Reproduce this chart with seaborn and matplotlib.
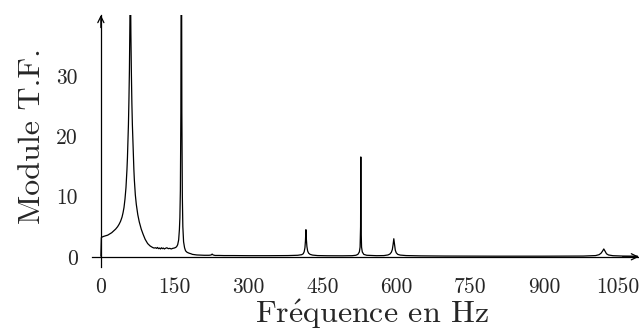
import matplotlib
matplotlib.use("Agg")
import matplotlib.pyplot as plt
import seaborn as sns

# spectre (frequence en Hz, module T.F.)
freq = [0, 1, 3, 6, 10, 14, 18, 22, 26, 30, 34, 37, 40, 43, 45, 47, 49, 51, 53, 54,
        55, 56, 57, 58, 59, 59.5, 60, 60.5, 61, 62, 63, 64, 65, 66, 67, 68, 70, 72, 75, 78,
        82, 86, 90, 95, 100, 105,
        108, 111, 113, 115, 117, 119, 121, 123, 125, 127, 129, 131, 134, 137, 140, 143,
        146, 149, 152, 154, 156,
        158, 159.5, 160.5, 161.5, 162.5, 163, 163.5, 164, 164.5, 165.5, 166.5, 168, 170,
        172, 175, 179, 183, 186, 190, 195, 200, 210, 220, 224, 226, 228, 232, 240, 250,
        270, 300, 340, 380, 400, 408, 411, 413, 414.5, 415.5, 416.5, 417.5, 418.5, 420,
        422, 425, 430, 440, 460, 490, 510, 518, 522, 525, 526.5, 527.5, 528, 528.5, 529.5,
        531, 534, 540, 560, 575, 583, 587, 590, 592, 593.5, 595, 596.5, 598, 600, 603,
        608, 620, 650, 700, 800, 900, 980, 1005, 1012, 1016, 1019, 1021.5, 1024, 1027, 1031,
        1040, 1060, 1090]
amp = [0.1, 3.2, 3.3, 3.4, 3.5, 3.6, 3.8, 4.0, 4.3, 4.6, 5.0, 5.4, 5.9, 6.6, 7.3, 8.2,
       9.6, 11.5, 14.5, 16.5, 19, 22, 26, 31, 39, 50, 48, 42, 37, 30.5, 25.5, 22, 19.5,
       16.8, 14.6, 12.8, 10.3, 8.7, 7.0, 5.8, 4.6, 3.7, 2.9, 2.2, 1.8, 1.55,
       1.45, 1.5, 1.4, 1.55, 1.35, 1.45, 1.3, 1.5, 1.35, 1.45, 1.3, 1.4, 1.5, 1.35, 1.4,
       1.3, 1.4, 1.45, 1.55, 1.7, 2.0,
       2.8, 4.5, 6.5, 11, 24, 45, 80, 45, 24, 10, 5, 2.5, 1.5,
       1.0, 0.75, 0.6, 0.5, 0.4, 0.35, 0.3, 0.28, 0.25, 0.25, 0.3, 0.45, 0.3, 0.22, 0.22,
       0.2, 0.2, 0.18, 0.18, 0.2, 0.25, 0.35, 0.5, 0.85, 1.5, 2.6, 4.5, 2.8, 1.7, 0.95,
       0.6, 0.4, 0.28, 0.2, 0.17, 0.16, 0.18, 0.25, 0.4, 0.8, 1.6, 5, 16.6, 5, 1.6,
       0.8, 0.4, 0.25, 0.18, 0.2, 0.3, 0.45, 0.75, 1.2, 2.0, 3.0, 2.0, 1.1, 0.65, 0.4,
       0.28, 0.2, 0.15, 0.12, 0.1, 0.1, 0.12, 0.2, 0.35, 0.6, 0.95, 1.3, 0.95, 0.5, 0.3,
       0.18, 0.12, 0.1]

xticks = [0, 150, 300, 450, 600, 750, 900, 1050]
xticklabels = ["0", "150", "300", "450", "600", "750", "900", "1050"]
yticks = [0, 10, 20, 30]
yticklabels = ["0", "10", "20", "30"]

sns.set_style("white")
plt.rcParams["font.family"] = ["cmr10", "DejaVu Serif"]
plt.rcParams["mathtext.fontset"] = "cm"
plt.rcParams["axes.formatter.use_mathtext"] = True

fig = plt.figure(figsize=(6.39, 3.32), dpi=100)
ax = fig.add_axes([92 / 639, 65 / 332, 547 / 639, 252 / 332])

sns.lineplot(x=freq, y=amp, ax=ax, color="black", linewidth=0.9, estimator=None)

ax.set_xlim(-18, 1093)
ax.set_ylim(-1.7, 40.2)

# axes en croix avec fleches
for s in ["top", "right"]:
    ax.spines[s].set_visible(False)
ax.spines["left"].set_position(("data", 0))
ax.spines["bottom"].set_position(("data", 0))
for s in ["left", "bottom"]:
    ax.spines[s].set_linewidth(0.9)
    ax.spines[s].set_color("black")
arrow = dict(arrowstyle="->,head_length=0.45,head_width=0.22", color="black", lw=0.9,
             shrinkA=0, shrinkB=0)
ax.annotate("", xy=(1, 0), xytext=(0.97, 0), xycoords=ax.get_yaxis_transform(),
            textcoords=ax.get_yaxis_transform(), arrowprops=arrow, annotation_clip=False)
ax.annotate("", xy=(0, 1), xytext=(0, 0.95), xycoords=ax.get_xaxis_transform(),
            textcoords=ax.get_xaxis_transform(), arrowprops=arrow, annotation_clip=False)

ax.set_xticks(xticks, labels=xticklabels)
ax.set_yticks(yticks, labels=yticklabels)
ax.tick_params(axis="both", direction="inout", length=15, width=0.8, labelsize=15.5, color="black")
ax.tick_params(axis="x", pad=7.5)
ax.tick_params(axis="y", pad=9)

ax.set_xlabel(r"Fr$\acute{\mathrm{e}}$quence en Hz", fontsize=23)
ax.set_ylabel("Module T.F.", fontsize=23)
ax.xaxis.set_label_coords(280 / 547, -0.118)
ax.yaxis.set_label_coords(-0.085, 0.52)

fig.savefig("out.png", dpi=100)
